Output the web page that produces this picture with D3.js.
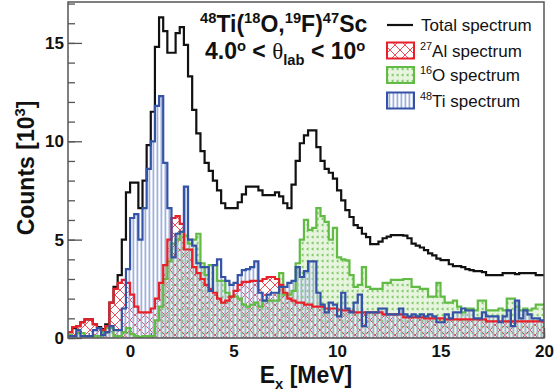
<!DOCTYPE html>
<html>
<head>
<meta charset="utf-8">
<script src="https://cdn.jsdelivr.net/npm/d3@7"></script>
<style>
  body { margin: 0; background: #fff; }
  svg { display: block; }
</style>
</head>
<body>
<div id="chart"></div>
<script>
// histogram binning (MeV)
const binStart = -3;
const binWidth = 0.2;

// counts in units of 10^3, one value per bin
const total = [
  0.3, 0.5, 0.6, 0.8, 0.95, 0.95, 0.7, 0.55, 0.45, 0.7,
  1.8, 2.6, 3.2, 5.0, 7.4, 7.9, 7.9, 6.6, 8.0, 9.8,
  11.5, 14.8, 16.3, 15.6, 14.5, 14.5, 15.5, 15.8, 14.9, 13.3,
  11.6, 10.4, 9.5, 8.9, 8.5, 8.0, 7.5, 6.85, 6.6, 6.6,
  6.6, 6.9, 7.3, 7.7, 7.7, 7.7, 7.5, 7.26, 7.26, 7.26,
  7.4, 7.2, 6.85, 6.6, 7.8, 9.0, 9.9, 10.3, 10.55, 10.55,
  9.7, 9.0, 8.6, 8.4, 8.1, 7.5, 7.0, 6.5, 6.15, 5.74,
  5.6, 5.3, 5.13, 4.77, 4.77, 4.9, 5.07, 5.15, 5.23, 5.23,
  5.23, 5.2, 5.07, 4.8, 4.7, 4.6, 4.47, 4.3, 4.2, 4.03,
  3.96, 3.96, 3.75, 3.65, 3.65, 3.6, 3.5, 3.45, 3.4, 3.4,
  3.35, 3.2, 3.2, 3.2, 3.2, 3.3, 3.3, 3.3, 3.25, 3.3,
  3.3, 3.3, 3.3, 3.2, 3.2
];
const al27 = [
  0.3, 0.55, 0.6, 0.8, 0.95, 0.95, 0.7, 0.5, 0.4, 0.6,
  1.8, 2.5, 2.8, 2.95, 2.8, 2.2, 1.6, 1.3, 1.3, 1.3,
  1.5, 2.0, 2.8, 3.7, 5.0, 6.1, 6.2, 5.8, 4.5, 4.5,
  3.6, 3.3, 3.0, 2.7, 2.5, 2.3, 2.0, 1.8, 1.9, 2.1,
  2.4, 2.7, 2.85, 2.85, 2.9, 2.9, 2.9, 3.0, 3.1, 3.1,
  3.0, 2.7, 2.3, 2.0, 1.9, 1.8, 1.8, 1.7, 1.7, 1.6,
  1.6, 1.6, 1.5, 1.5, 1.5, 1.45, 1.4, 1.4, 1.35, 1.3,
  1.3, 1.3, 1.3, 1.3, 1.3, 1.3, 1.2, 1.2, 1.2, 1.2,
  1.2, 1.05, 1.05, 1.05, 1.05, 1.05, 1.0, 1.0, 1.0, 1.0,
  1.0, 0.95, 0.95, 0.95, 0.95, 0.95, 0.95, 0.95, 0.95, 0.95,
  0.95, 0.85, 0.85, 0.85, 0.85, 0.85, 0.85, 0.85, 0.85, 0.85,
  0.85, 0.85, 0.85, 0.85, 0.85
];
const o16 = [
  0.15, 0.1, 0.25, 0.25, 0.1, 0.1, 0.1, 0.1, 0.3, 0.5,
  0.5, 0.1, 0.1, 0.3, 0.5, 0.2, 0.1, 0.05, 0.1, 0.1,
  0.1, 0.9, 1.6, 3.0, 3.9, 4.8, 5.0, 5.4, 5.2, 4.8,
  5.0, 5.3, 3.8, 3.2, 3.7, 3.7, 2.9, 2.9, 2.3, 2.1,
  2.1, 2.0, 1.7, 1.6, 1.7, 1.8, 1.6, 1.9, 1.9, 1.9,
  1.9, 3.3, 2.2, 2.2, 2.4, 3.8, 5.0, 6.0, 5.5, 5.6,
  6.6, 6.2, 5.9, 5.0, 5.6, 4.1, 4.0, 3.95, 3.2, 2.6,
  2.7, 3.6, 2.6, 2.5, 2.5, 2.5, 2.8, 2.8, 2.95, 2.95,
  2.95, 3.0, 3.0, 2.6, 2.6, 2.5, 2.5, 2.1, 2.1, 2.8,
  2.1, 1.8, 1.8, 1.9, 1.6, 1.3, 1.5, 1.5, 1.4, 1.9,
  1.9, 1.4, 1.4, 1.4, 1.5, 1.4, 2.0, 2.0, 1.6, 1.4,
  1.5, 1.4, 1.5, 1.7, 1.7
];
const ti48 = [
  0.1, 0.1, 0.4, 0.1, 0.1, 0.1, 0.4, 0.5, 0.15, 0.3,
  0.6, 0.4, 0.4, 1.5, 3.5, 6.1, 6.3, 5.0, 6.6, 8.6,
  10.0, 11.8, 12.3, 8.9, 6.6, 4.1, 5.3, 5.4, 7.7, 5.0,
  4.7, 3.8, 3.6, 3.6, 2.4, 3.7, 4.0, 3.1, 2.9, 2.7,
  2.8, 3.2, 3.45, 3.5, 3.6, 3.9, 2.3, 1.9, 2.2, 2.3,
  2.3, 2.6, 2.6, 2.8, 2.9, 3.6, 3.1, 3.4, 3.9, 3.9,
  2.3, 1.7, 1.3, 1.8, 1.7, 1.1, 2.3, 1.5, 1.3, 1.8,
  2.2, 0.6, 1.3, 1.3, 1.3, 1.5, 1.5, 1.2, 1.2, 1.2,
  1.5, 1.2, 1.1, 1.2, 1.1, 1.2, 1.1, 1.2, 1.1, 0.8,
  0.8, 1.2, 1.0, 1.3, 1.3, 1.5, 1.4, 1.4, 1.0, 1.0,
  1.3, 1.1, 1.1, 1.1, 0.8, 1.1, 1.4, 0.6, 1.9, 1.0,
  1.4, 1.2, 1.0, 1.0, 0.9
];

const yMajorTicks = [0, 5, 10, 15];
const xMajorTicks = [0, 5, 10, 15, 20];

const width = 556;
const height = 391;
const plot = { left: 68, right: 544, top: 2, bottom: 338 };
const colors = {
  total: "#111111",
  al: "#e8202a",
  o: "#62bb45",
  oFill: "#e3f2d9",
  ti: "#3553a6",
  tiFill: "#9fb2dc",
  frame: "#555555",
};
const font = "'Liberation Sans', Arial, Helvetica, sans-serif";

const x = d3.scaleLinear().domain([-3, 20]).range([plot.left, plot.right]);
const y = d3.scaleLinear().domain([0, 17.08]).range([plot.bottom, plot.top]);

const svg = d3.select("#chart").append("svg")
  .attr("width", width)
  .attr("height", height)
  .style("font-family", font);

const defs = svg.append("defs");
defs.append("clipPath").attr("id", "clip")
  .append("rect")
  .attr("x", plot.left).attr("y", plot.top)
  .attr("width", plot.right - plot.left).attr("height", plot.bottom - plot.top);

// crosshatch for 27Al
const pAl = defs.append("pattern").attr("id", "hatchAl")
  .attr("patternUnits", "userSpaceOnUse").attr("width", 10).attr("height", 10);
pAl.append("path").attr("d", "M0,0L10,10M10,0L0,10")
  .attr("stroke", colors.al).attr("stroke-width", 0.8).attr("fill", "none");

// pale fill with small triangles for 16O
const pO = defs.append("pattern").attr("id", "hatchO")
  .attr("patternUnits", "userSpaceOnUse").attr("width", 5).attr("height", 6);
pO.append("rect").attr("width", 5).attr("height", 6).attr("fill", colors.oFill).attr("opacity", 0.85);
pO.append("path").attr("d", "M1,3L3.5,1.2L3.5,4.8Z").attr("fill", colors.o).attr("opacity", 0.8);

// vertical stripes for 48Ti
const pTi = defs.append("pattern").attr("id", "hatchTi")
  .attr("patternUnits", "userSpaceOnUse").attr("width", 4).attr("height", 4);
pTi.append("rect").attr("x", 0.5).attr("width", 1.8).attr("height", 4).attr("fill", colors.tiFill);

// axes
const yAxis = g => g.attr("transform", `translate(${plot.left},0)`)
  .call(d3.axisLeft(y).tickValues(yMajorTicks).tickSize(-14).tickPadding(4).tickFormat(d3.format("d")));
const yMinor = g => g.attr("transform", `translate(${plot.left},0)`)
  .call(d3.axisLeft(y).tickValues(d3.range(0, 18)).tickSize(-7).tickFormat(""));
const xAxis = g => g.attr("transform", `translate(0,${plot.bottom})`)
  .call(d3.axisBottom(x).tickValues(xMajorTicks).tickSize(-10).tickPadding(7).tickFormat(d3.format("d")));
const xMinor = g => g.attr("transform", `translate(0,${plot.bottom})`)
  .call(d3.axisBottom(x).tickValues(d3.range(-3, 21)).tickSize(-5).tickFormat(""));

[yMinor, yAxis, xMinor, xAxis].forEach(fn => {
  const g = svg.append("g").call(fn);
  g.select(".domain").remove();
  g.selectAll(".tick line").attr("stroke", colors.frame).attr("stroke-width", 1.3);
  g.selectAll(".tick text")
    .attr("fill", "#111")
    .style("font-family", font)
    .style("font-size", "17px")
    .style("font-weight", "bold");
});

// histograms
function stepPoints(vals) {
  const pts = vals.map((v, i) => [binStart + i * binWidth, v]);
  pts.push([binStart + vals.length * binWidth, vals[vals.length - 1]]);
  return pts;
}
const line = d3.line().x(d => x(d[0])).y(d => y(d[1])).curve(d3.curveStepAfter);
const area = d3.area().x(d => x(d[0])).y0(y(0)).y1(d => y(d[1])).curve(d3.curveStepAfter);

const histos = svg.append("g").attr("clip-path", "url(#clip)");

histos.append("path").datum(stepPoints(total))
  .attr("d", line).attr("fill", "none")
  .attr("stroke", colors.total).attr("stroke-width", 2.2);

const series = [
  { vals: o16, color: colors.o, fill: "url(#hatchO)" },
  { vals: al27, color: colors.al, fill: "url(#hatchAl)" },
  { vals: ti48, color: colors.ti, fill: "url(#hatchTi)" },
];
series.forEach(s => {
  histos.append("path").datum(stepPoints(s.vals))
    .attr("d", area).attr("fill", s.fill).attr("stroke", "none");
});
series.forEach(s => {
  histos.append("path").datum(stepPoints(s.vals))
    .attr("d", line).attr("fill", "none")
    .attr("stroke", s.color).attr("stroke-width", 2.2);
});

// frame
svg.append("rect")
  .attr("x", plot.left).attr("y", plot.top)
  .attr("width", plot.right - plot.left).attr("height", plot.bottom - plot.top)
  .attr("fill", "none").attr("stroke", colors.frame).attr("stroke-width", 1.5);

// rich text helper: parts of {t, sup, sub, family}, supShift = raise of superscripts in em
function richText(sel, parts, size, supShift = 0.4) {
  let shift = 0;
  parts.forEach(p => {
    const target = p.sup ? -supShift * size : p.sub ? 0.28 * size : 0;
    const ts = sel.append("tspan")
      .attr("dy", target - shift)
      .style("font-size", (p.sup || p.sub ? 0.64 * size : size) + "px")
      .text(p.t);
    if (p.family) ts.style("font-family", p.family).style("font-weight", "normal");
    shift = target;
  });
}

// title
const t1 = svg.append("text").attr("x", 200).attr("y", 32)
  .style("font-weight", "bold").attr("fill", "#111");
richText(t1, [
  { t: "48", sup: true }, { t: "Ti(" }, { t: "18", sup: true }, { t: "O," },
  { t: "19", sup: true }, { t: "F)" }, { t: "47", sup: true }, { t: "Sc" },
], 23);

const t2 = svg.append("text").attr("x", 205).attr("y", 59)
  .style("font-weight", "bold").attr("fill", "#111");
richText(t2, [
  { t: "4.0" }, { t: "o", sup: true }, { t: " < " },
  { t: "θ", family: "'Liberation Serif', 'DejaVu Serif', serif" },
  { t: "lab", sub: true }, { t: " < 10" }, { t: "o", sup: true },
], 23, 0.34);

// legend
const legend = svg.append("g").attr("fill", "#111").style("font-size", "17px");
legend.append("line").attr("x1", 387).attr("x2", 413).attr("y1", 25).attr("y2", 25)
  .attr("stroke", colors.total).attr("stroke-width", 2.2);
legend.append("text").attr("x", 421).attr("y", 31).text("Total spectrum");

const legendRows = [
  { iso: "27", name: "Al spectrum", color: colors.al, fill: "url(#hatchAl)", y: 50.5 },
  { iso: "16", name: "O spectrum", color: colors.o, fill: "url(#hatchO)", y: 75 },
  { iso: "48", name: "Ti spectrum", color: colors.ti, fill: "url(#hatchTi)", y: 100.5 },
];
legendRows.forEach(r => {
  legend.append("rect").attr("x", 387).attr("y", r.y - 8).attr("width", 27).attr("height", 16)
    .attr("fill", r.fill).attr("stroke", r.color).attr("stroke-width", 2);
  const tx = legend.append("text").attr("x", 420).attr("y", r.y + 6);
  richText(tx, [{ t: r.iso, sup: true }, { t: r.name }], 17);
});

// axis titles
const yt = svg.append("text")
  .attr("transform", "translate(34,168) rotate(-90)")
  .attr("text-anchor", "middle")
  .style("font-weight", "bold").attr("fill", "#111");
richText(yt, [{ t: "Counts [10" }, { t: "3", sup: true }, { t: "]" }], 23);

const xt = svg.append("text")
  .attr("x", 306).attr("y", 383)
  .attr("text-anchor", "middle")
  .style("font-weight", "bold").attr("fill", "#111");
richText(xt, [{ t: "E" }, { t: "x", sub: true }, { t: " [MeV]" }], 23);
</script>
</body>
</html>
